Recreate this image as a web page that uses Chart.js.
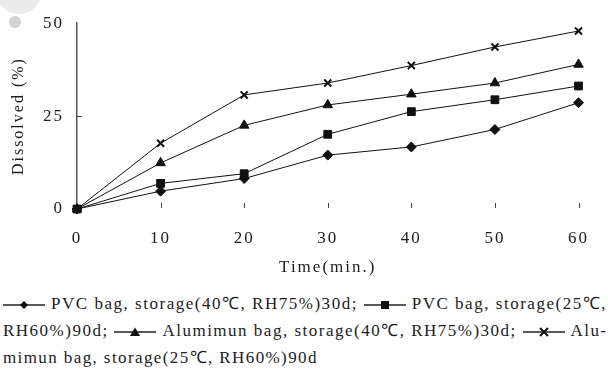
<!DOCTYPE html>
<html>
<head>
<meta charset="utf-8">
<script src="https://cdn.jsdelivr.net/npm/chart.js@4.4.1/dist/chart.umd.min.js"></script>
<style>
    html, body { margin: 0; padding: 0; background: #fff; }
    #wrap { position: relative; width: 608px; height: 373px; overflow: hidden; }
    #chartBox { position: absolute; left: 0; top: 0; width: 608px; height: 290px; }
    .dot { position: absolute; border-radius: 50%; background: #d2d2d2; }
    .legend { position: absolute; left: 0; width: 608px; height: 24px; overflow: hidden; white-space: nowrap;
              font-family: 'Liberation Serif', serif; font-size: 17px; line-height: 24px; color: #1c1c1c; }
    .legend .inner { display: inline-block; padding-left: 3px; }
    .legend svg { vertical-align: -2px; margin-right: 6px; }
</style>
</head>
<body>
<div id="wrap">
    <div class="dot" style="left:-4px;top:-32px;width:46px;height:46px;background:#ebebeb;"></div>
    <div class="dot" style="left:9px;top:16px;width:12px;height:12px;"></div>
    <div id="chartBox"><canvas id="dissolChart"></canvas></div>
    <div class="legend" style="top:292px;"><span class="inner"><span class="key" data-s="0"></span>PVC bag, storage(40℃, RH75%)30d; <span class="key" data-s="1"></span>PVC bag, storage(25℃,</span></div>
    <div class="legend" style="top:319px;"><span class="inner">RH60%)90d; <span class="key" data-s="2"></span>Alumimun bag, storage(40℃, RH75%)30d; <span class="key" data-s="3"></span>Alu-</span></div>
    <div class="legend" style="top:346px;"><span class="inner">mimun bag, storage(25℃, RH60%)90d</span></div>
</div>
<script>
const times = [0, 10, 20, 30, 40, 50, 60];
const pvc40 = [0, 4.8, 8.2, 14.5, 16.7, 21.4, 28.6];
const pvc25 = [0, 6.9, 9.5, 20.1, 26.2, 29.4, 33.1];
const alu40 = [0, 12.4, 22.5, 28.0, 30.9, 33.9, 38.9];
const alu25 = [0, 17.7, 30.7, 33.9, 38.6, 43.6, 47.9];
const seriesLabels = [
    'PVC bag, storage(40℃, RH75%)30d',
    'PVC bag, storage(25℃, RH60%)90d',
    'Alumimun bag, storage(40℃, RH75%)30d',
    'Alumimun bag, storage(25℃, RH60%)90d'
];
const yTicks = [0, 25, 50];

const fontFam = "'Liberation Serif', serif";
const ink = '#1c1c1c';

const toPoints = arr => arr.map((v, i) => ({ x: times[i], y: v }));

// canvas letter spacing so the serif text spreads like the original
const spacing = {
    id: 'spacing',
    beforeLayout(chart) { chart.ctx.letterSpacing = '2px'; },
    beforeDraw(chart) { chart.ctx.letterSpacing = '2px'; }
};

// short tick marks pointing into the plot
const innerTicks = {
    id: 'innerTicks',
    beforeDatasetsDraw(chart) {
        const { ctx, chartArea, scales: { x, y } } = chart;
        ctx.save();
        ctx.strokeStyle = '#444';
        ctx.lineWidth = 1;
        ctx.beginPath();
        x.ticks.forEach(t => {
            if (t.value === 0) return;
            const px = Math.round(x.getPixelForValue(t.value)) + 0.5;
            ctx.moveTo(px, chartArea.bottom - 6);
            ctx.lineTo(px, chartArea.bottom - 1);
        });
        y.ticks.forEach(t => {
            if (t.value <= y.min || t.value >= y.max) return;
            const py = Math.round(y.getPixelForValue(t.value)) + 0.5;
            ctx.moveTo(chartArea.left, py);
            ctx.lineTo(chartArea.left + 5, py);
        });
        ctx.stroke();
        ctx.restore();
    }
};

const styles = [
    { pointStyle: 'rectRot', pointRadius: 5, pointBorderWidth: 1 },
    { pointStyle: 'rect', pointRadius: 5.5, pointBorderWidth: 1 },
    { pointStyle: 'triangle', pointRadius: 5.5, pointBorderWidth: 1 },
    { pointStyle: 'crossRot', pointRadius: 5, pointBorderWidth: 2 }
];
const seriesData = [pvc40, pvc25, alu40, alu25];

document.addEventListener('DOMContentLoaded', () => {
    new Chart(document.getElementById('dissolChart'), {
        type: 'line',
        data: {
            datasets: seriesData.map((arr, i) => ({
                label: seriesLabels[i],
                data: toPoints(arr),
                borderColor: '#111',
                borderWidth: 1,
                backgroundColor: '#111',
                pointBackgroundColor: '#111',
                pointBorderColor: '#111',
                pointStyle: styles[i].pointStyle,
                pointRadius: styles[i].pointRadius,
                pointBorderWidth: styles[i].pointBorderWidth,
                tension: 0,
                clip: false
            }))
        },
        options: {
            responsive: true,
            maintainAspectRatio: false,
            animation: false,
            layout: { padding: { top: 20, right: 11, left: 0, bottom: 0 } },
            plugins: { legend: { display: false }, tooltip: { enabled: false } },
            scales: {
                x: {
                    type: 'linear',
                    min: 0,
                    max: 60,
                    ticks: { stepSize: 10, color: ink, padding: 19, font: { family: fontFam, size: 17 } },
                    grid: { drawOnChartArea: false, drawTicks: false },
                    border: { display: false },
                    title: {
                        display: true,
                        text: 'Time(min.)',
                        color: ink,
                        font: { family: fontFam, size: 17 },
                        padding: { top: 0, bottom: 12 }
                    },
                    afterFit(scale) { scale.height = 81; }
                },
                y: {
                    min: 0,
                    max: 50,
                    afterBuildTicks(scale) { scale.ticks = yTicks.map(v => ({ value: v })); },
                    ticks: { color: ink, padding: 13, font: { family: fontFam, size: 17 } },
                    grid: { drawOnChartArea: false, drawTicks: false },
                    border: { color: '#555', width: 1.5 },
                    title: {
                        display: true,
                        text: 'Dissolved (%)',
                        color: ink,
                        font: { family: fontFam, size: 16 },
                        padding: { top: 9, bottom: 0 }
                    },
                    afterFit(scale) { scale.width = 77; }
                }
            }
        },
        plugins: [spacing, innerTicks]
    });

    // legend keys: short line with the series marker
    const keySvg = [
        '<polygon points="21,2 25,6 21,10 17,6" />',
        '<rect x="17" y="2" width="8" height="8" />',
        '<polygon points="21,1.5 26,10 16,10" />',
        '<path d="M17,2 L25,10 M25,2 L17,10" stroke="#111" stroke-width="2" />'
    ];
    document.querySelectorAll('.key').forEach(k => {
        const s = +k.dataset.s;
        k.innerHTML = '<svg width="42" height="12" viewBox="0 0 42 12" fill="#111">' +
            '<line x1="0" y1="6" x2="42" y2="6" stroke="#222" stroke-width="1.3" />' + keySvg[s] + '</svg>';
    });

    // spread each legend line to the width it has in the picture
    const targets = [607, 607, 318];
    document.querySelectorAll('.legend .inner').forEach((el, i) => {
        el.style.letterSpacing = '0px';
        const w = el.getBoundingClientRect().width;
        let chars = 0;
        el.childNodes.forEach(n => { if (n.nodeType === 3) chars += n.textContent.length; });
        const ls = (targets[i] - w) / chars;
        el.style.letterSpacing = ls.toFixed(2) + 'px';
    });
});
</script>
</body>
</html>
